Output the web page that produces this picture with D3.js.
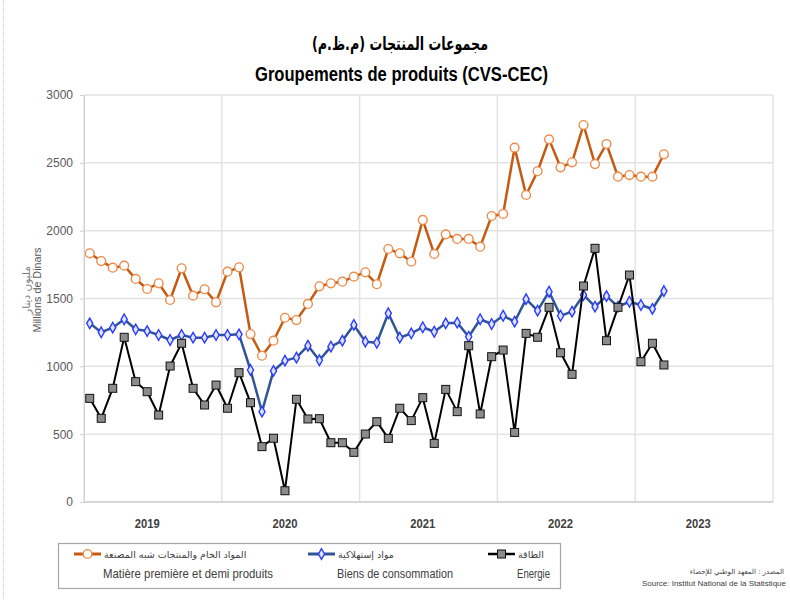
<!DOCTYPE html>
<html>
<head>
<meta charset="utf-8">
<script src="https://cdn.jsdelivr.net/npm/d3@7"></script>
<style>
    body { margin: 0; background: #fff; }
    svg { display: block; font-family: "Liberation Sans", Arial, sans-serif; }
</style>
</head>
<body>
<svg id="chart" width="790" height="600"></svg>
<script>
// months Jan 2019 .. Mar 2023
var years = ["2019", "2020", "2021", "2022", "2023"];
var yTicks = [0, 500, 1000, 1500, 2000, 2500, 3000];

var matieres = [1833, 1776, 1727, 1742, 1644, 1570, 1612, 1489, 1723, 1521, 1568, 1472,
    1698, 1730, 1238, 1078, 1189, 1358, 1341, 1460, 1590, 1612, 1624, 1661,
    1693, 1605, 1865, 1833, 1771, 2079, 1828, 1973, 1939, 1939, 1882, 2108,
    2123, 2612, 2263, 2438, 2673, 2467, 2504, 2779, 2491, 2639, 2398, 2410,
    2398, 2398, 2563];

var biens = [1317, 1251, 1285, 1347, 1273, 1260, 1231, 1194, 1231, 1211, 1211, 1231,
    1231, 1236, 973, 666, 966, 1042, 1064, 1152, 1045, 1145, 1189, 1305,
    1182, 1174, 1391, 1211, 1243, 1288, 1255, 1317, 1322, 1218, 1347, 1312,
    1373, 1329, 1495, 1410, 1550, 1373, 1403, 1526, 1440, 1518, 1440, 1476,
    1452, 1423, 1555];

var energie = [764, 617, 838, 1214, 887, 813, 641, 1002, 1170, 838, 715, 862,
    691, 953, 732, 408, 470, 83, 757, 612, 614, 437, 437, 366,
    501, 592, 469, 691, 600, 769, 432, 830, 666, 1152, 649, 1071,
    1120, 513, 1243, 1214, 1435, 1100, 941, 1592, 1870, 1189, 1435, 1673,
    1034, 1170, 1010];

var legendAr = ["المواد الخام والمنتجات شبه المصنعة", "مواد إستهلاكية", "الطاقة"];
var legendFr = ["Matière première et demi produits", "Biens de consommation", "Energie"];

(function () {
    var svg = d3.select("#chart"),
        left = 84, right = 773, top = 95, bottom = 502,
        nMonths = years.length * 12,
        series, x, y, line, plot, legend;

    // squeeze text to the width it takes in the original (narrow Calibri look)
    function fit(sel, w) {
        sel.attr("textLength", w).attr("lengthAdjust", "spacingAndGlyphs");
        return sel;
    }

    series = [
        { values: matieres, line: "#C55A11", width: 2.5, marker: "circle", mStroke: "#ED8B4A", mFill: "#fff" },
        { values: biens, line: "#2F5597", width: 2.5, marker: "diamond", mStroke: "#2B3BFF", mFill: "#DDE3FF" },
        { values: energie, line: "#000", width: 2, marker: "square", mStroke: "#111", mFill: "#8C8C8C" }
    ];

    x = d3.scaleLinear().domain([0, nMonths]).range([left, right]);
    y = d3.scaleLinear().domain([0, 3000]).range([bottom, top]);

    // page frame at the left
    svg.append("line")
        .attr("x1", 3.5).attr("x2", 3.5).attr("y1", 0).attr("y2", 600)
        .attr("stroke", "#c8c8c8").attr("stroke-dasharray", "1,1");

    // titles
    fit(svg.append("text")
        .attr("x", 312).attr("y", 50)
        .attr("font-family", "'DejaVu Sans', sans-serif")
        .attr("font-weight", "bold").attr("font-size", 18)
        .attr("fill", "#000")
        .text("مجموعات المنتجات (م.ظ.م)"), 176);

    fit(svg.append("text")
        .attr("x", 255).attr("y", 81)
        .attr("font-weight", "bold").attr("font-size", 20)
        .attr("fill", "#000")
        .text("Groupements de produits (CVS-CEC)"), 293);

    // grid
    plot = svg.append("g").attr("id", "plot");

    plot.selectAll("line.hgrid")
        .data(yTicks)
        .enter()
        .append("line")
        .attr("class", "hgrid")
        .attr("x1", left).attr("x2", right)
        .attr("y1", function (d) { return y(d); })
        .attr("y2", function (d) { return y(d); })
        .attr("stroke", "#e3e3e3").attr("stroke-width", 1.5);

    plot.selectAll("line.vgrid")
        .data(d3.range(0, nMonths + 1, 12))
        .enter()
        .append("line")
        .attr("class", "vgrid")
        .attr("x1", function (d) { return x(d); })
        .attr("x2", function (d) { return x(d); })
        .attr("y1", top).attr("y2", bottom)
        .attr("stroke", "#e3e3e3").attr("stroke-width", 1.5);

    // y axis
    var yAxis = svg.append("g")
        .attr("transform", "translate(" + left + ",0)")
        .call(d3.axisLeft(y).tickValues(yTicks).tickSize(4).tickPadding(7).tickFormat(d3.format("d")));
    yAxis.select(".domain").attr("stroke", "#d0d0d0");
    yAxis.selectAll(".tick line").attr("stroke", "#d0d0d0");
    yAxis.selectAll(".tick text")
        .attr("font-family", "'Liberation Sans', sans-serif")
        .attr("font-size", 12).attr("fill", "#595959");

    // x axis: year labels under the 6th month of each year
    svg.append("line")
        .attr("x1", left).attr("x2", right).attr("y1", bottom).attr("y2", bottom)
        .attr("stroke", "#d0d0d0").attr("stroke-width", 1.5);

    fit(svg.selectAll("text.year")
        .data(years)
        .enter()
        .append("text")
        .attr("class", "year")
        .attr("x", function (d, i) { return x(i * 12 + 5.5); })
        .attr("y", 528)
        .attr("text-anchor", "middle")
        .attr("font-weight", "bold").attr("font-size", 12.5)
        .attr("fill", "#404040")
        .text(function (d) { return d; }), 25);

    // y axis title
    var yTitle = svg.append("g").attr("transform", "translate(33,290) rotate(-90)");
    yTitle.append("text")
        .attr("x", 0).attr("y", -3)
        .attr("text-anchor", "middle")
        .attr("font-family", "'DejaVu Sans', sans-serif")
        .attr("font-size", 10.5).attr("fill", "#7f7f7f")
        .text("مليون دينار");
    fit(yTitle.append("text")
        .attr("x", 0).attr("y", 8)
        .attr("text-anchor", "middle")
        .attr("font-family", "'Liberation Sans', sans-serif")
        .attr("font-size", 11).attr("fill", "#595959")
        .text("Millions de Dinars"), 85);

    // series
    line = d3.line()
        .x(function (d, i) { return x(i + 0.5); })
        .y(function (d) { return y(d); });

    function drawMarker(sel, s, size) {
        if (s.marker === "circle") {
            sel.append("circle").attr("r", size * 0.55);
        } else if (s.marker === "diamond") {
            sel.append("path").attr("d", d3.symbol().type(d3.symbolDiamond).size(size * size * 0.5)());
        } else {
            sel.append("rect")
                .attr("x", -size / 2).attr("y", -size / 2)
                .attr("width", size).attr("height", size);
        }
        sel.selectAll("*")
            .attr("fill", s.mFill)
            .attr("stroke", s.mStroke)
            .attr("stroke-width", s.marker === "square" ? 1 : 1.4);
    }

    series.forEach(function (s) {
        var g = plot.append("g");
        g.append("path")
            .datum(s.values)
            .attr("d", line)
            .attr("fill", "none")
            .attr("stroke", s.line)
            .attr("stroke-width", s.width)
            .attr("stroke-linejoin", "round");

        g.selectAll("g.pt")
            .data(s.values)
            .enter()
            .append("g")
            .attr("class", "pt")
            .attr("transform", function (d, i) { return "translate(" + x(i + 0.5) + "," + y(d) + ")"; })
            .each(function () { drawMarker(d3.select(this), s, 8); });
    });

    // legend
    legend = svg.append("g").attr("id", "legend");
    legend.append("rect")
        .attr("x", 58.5).attr("y", 543.5).attr("width", 502).attr("height", 45)
        .attr("fill", "#fff").attr("stroke", "#a6a6a6").attr("stroke-width", 1.2);

    var legendX = [74, 308, 488],
        frWidth = [170, 116, 33];
    series.forEach(function (s, i) {
        var item = legend.append("g").attr("transform", "translate(" + legendX[i] + ",554)");
        item.append("line")
            .attr("x1", 0).attr("x2", 27).attr("y1", 0).attr("y2", 0)
            .attr("stroke", s.line).attr("stroke-width", s.width + 0.5);
        drawMarker(item.append("g").attr("transform", "translate(13.5,0)"), s, 8);
        item.append("text")
            .attr("x", 30).attr("y", 4)
            .attr("font-family", "'DejaVu Sans', sans-serif")
            .attr("font-size", 9.5).attr("fill", "#404040")
            .text(legendAr[i]);
        fit(item.append("text")
            .attr("x", 29).attr("y", 24)
            .attr("font-size", 13).attr("fill", "#404040")
            .text(legendFr[i]), frWidth[i]);
    });

    // source (natural width, anchored at the right so nothing runs off the page)
    svg.append("text")
        .attr("x", 784).attr("y", 574)
        .attr("text-anchor", "end")
        .attr("font-family", "'DejaVu Sans', sans-serif")
        .attr("font-size", 7).attr("fill", "#404040")
        .text("المصدر : المعهد الوطني للإحصاء");
    svg.append("text")
        .attr("x", 786).attr("y", 586)
        .attr("text-anchor", "end")
        .attr("font-size", 8).attr("fill", "#404040")
        .text("Source: Institut National de la Statistique");
})();
</script>
</body>
</html>
